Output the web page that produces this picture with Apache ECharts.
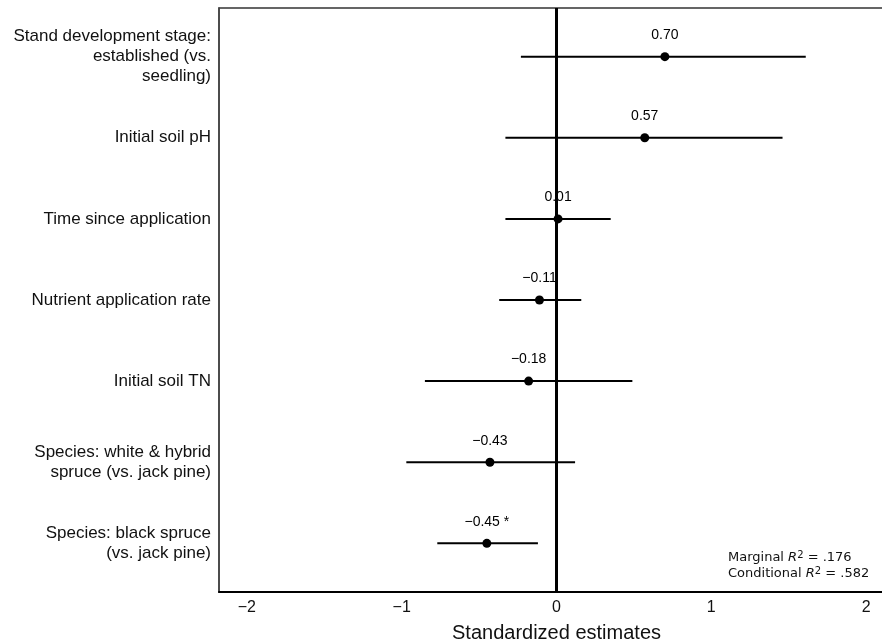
<!DOCTYPE html>
<html>
<head>
<meta charset="utf-8">
<script src="https://cdn.jsdelivr.net/npm/echarts@6/dist/echarts.min.js"></script>
<style>
html,body{margin:0;padding:0;background:#fff;overflow:hidden;}
#chart{width:882px;height:644px;}
</style>
</head>
<body>
<div id="chart"></div>
<script>
// ---- data ----
const predictors = [
  "Stand development stage:\nestablished (vs.\nseedling)",
  "Initial soil pH",
  "Time since application",
  "Nutrient application rate",
  "Initial soil TN",
  "Species: white & hybrid\nspruce (vs. jack pine)",
  "Species: black spruce\n(vs. jack pine)"
];
const estimates = [0.70, 0.57, 0.01, -0.11, -0.18, -0.43, -0.45];
const ciLow  = [-0.23, -0.33, -0.33, -0.37, -0.85, -0.97, -0.77];
const ciHigh = [1.61, 1.46, 0.35, 0.16, 0.49, 0.12, -0.12];
const estLabels = ["0.70", "0.57", "0.01", "\u22120.11", "\u22120.18", "\u22120.43", "\u22120.45 *"];
const xTicks = [-2, -1, 0, 1, 2];
const rowPositions = [1, 2, 3, 4, 5, 6, 7];

const ciData = rowPositions.map((r, i) => [ciLow[i], ciHigh[i], r]);
const pointData = rowPositions.map((r, i) => [estimates[i], r]);

const chart = echarts.init(document.getElementById('chart'));
chart.setOption({
  animation: false,
  backgroundColor: '#ffffff',
  grid: {
    left: 219, right: -12, top: 8, bottom: 52,
    outerBoundsMode: 'none',
    containLabel: false,
    show: true, borderColor: '#333', borderWidth: 1.5, backgroundColor: 'transparent'
  },
  xAxis: {
    type: 'value',
    min: -2.18, max: 2.18,
    splitLine: { show: false },
    axisTick: { show: false },
    axisLine: { show: true, onZero: false, lineStyle: { color: '#000', width: 2 } },
    axisLabel: {
      customValues: xTicks,
      color: '#111', fontSize: 16, fontFamily: 'Liberation Sans, Arial, sans-serif', margin: 8,
      formatter: v => String(v).replace('-', '\u2212')
    },
    name: 'Standardized estimates',
    nameLocation: 'middle',
    nameGap: 31,
    nameTextStyle: { color: '#111', fontSize: 20, fontFamily: 'Liberation Sans, Arial, sans-serif' }
  },
  yAxis: {
    type: 'value',
    inverse: true,
    min: 0.4, max: 7.6,
    splitLine: { show: false },
    axisTick: { show: false },
    axisLine: { show: true, onZero: false, lineStyle: { color: '#444', width: 1.5 } },
    axisLabel: {
      customValues: rowPositions,
      color: '#111', fontSize: 17, lineHeight: 20, fontFamily: 'Liberation Sans, Arial, sans-serif',
      margin: 8, align: 'right', padding: [3, 0, 0, 0],
      formatter: v => predictors[Math.round(v) - 1] || ''
    }
  },
  series: [
    {
      type: 'custom',
      data: ciData,
      encode: { x: [0, 1], y: 2 },
      renderItem: function (params, api) {
        const p1 = api.coord([api.value(0), api.value(2)]);
        const p2 = api.coord([api.value(1), api.value(2)]);
        return {
          type: 'line',
          shape: { x1: p1[0], y1: p1[1], x2: p2[0], y2: p2[1] },
          style: { stroke: '#000', lineWidth: 2 }
        };
      },
      z: 2
    },
    {
      type: 'scatter',
      data: pointData,
      symbol: 'circle',
      symbolSize: 9,
      itemStyle: { color: '#000', opacity: 1 },
      label: {
        show: true, position: 'top', distance: 10,
        color: '#000', fontSize: 14, fontFamily: 'Liberation Sans, Arial, sans-serif',
        formatter: p => estLabels[p.dataIndex]
      },
      z: 4,
      markLine: {
        silent: true,
        symbol: 'none',
        label: { show: false },
        lineStyle: { color: '#000', width: 3, type: 'solid', opacity: 1 },
        data: [{ xAxis: 0 }]
      }
    }
  ],
  graphic: [
    {
      type: 'text',
      left: 728, top: 550,
      style: {
        text: 'Marginal {i|R}{s|2} = .176\nConditional {i|R}{s|2} = .582',
        fontFamily: 'DejaVu Sans, Verdana, sans-serif',
        fontSize: 13, lineHeight: 16, fill: '#111',
        rich: {
          i: { fontStyle: 'italic', fontFamily: 'DejaVu Sans, Verdana, sans-serif', fontSize: 13, fill: '#111' },
          s: { fontSize: 10, verticalAlign: 'top', fontFamily: 'DejaVu Sans, Verdana, sans-serif', fill: '#111', padding: [0, 0, 7, 0] }
        }
      }
    }
  ]
});
</script>
</body>
</html>
